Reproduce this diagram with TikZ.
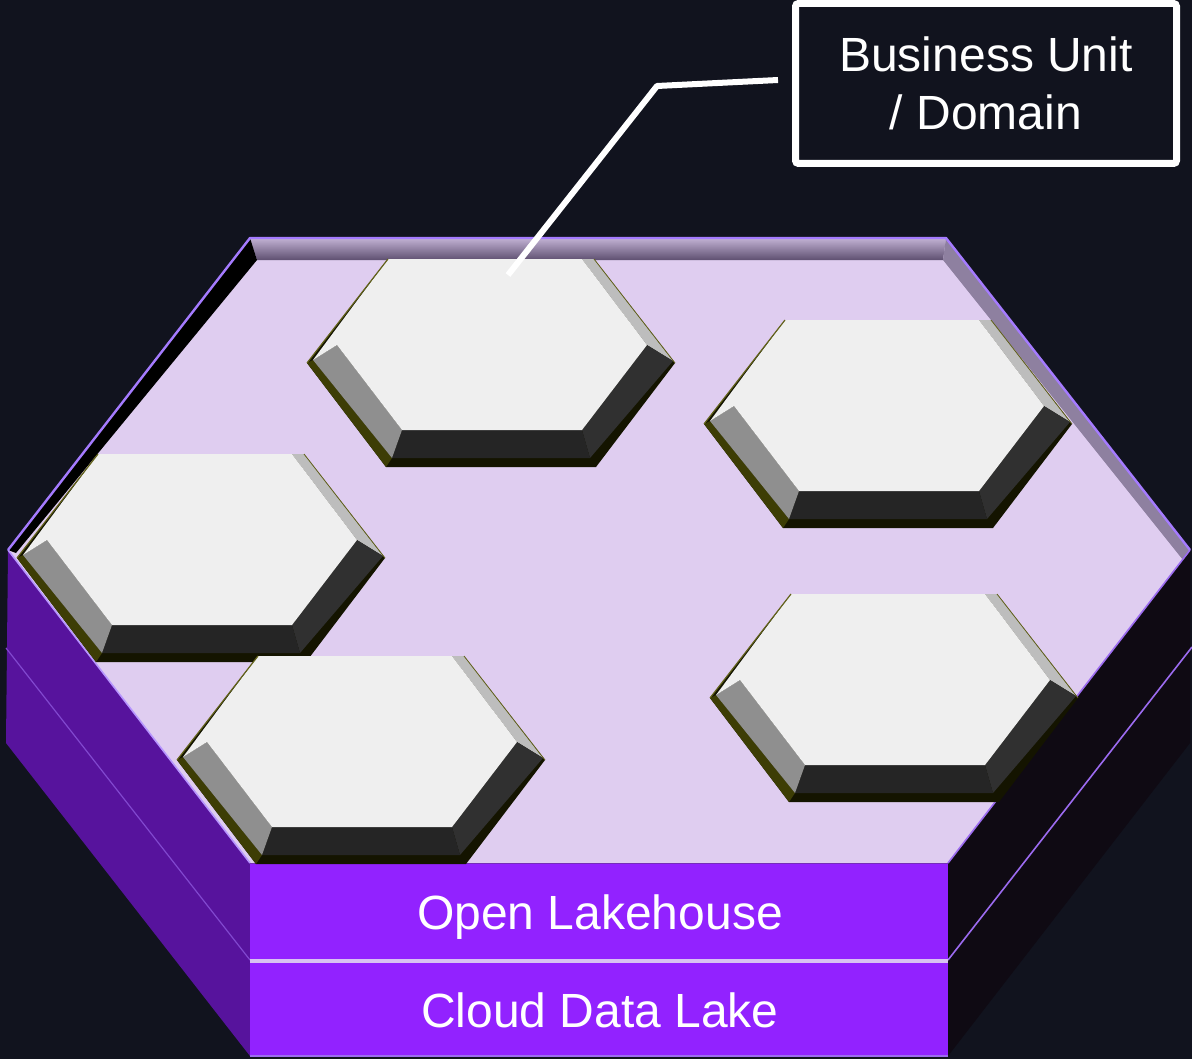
\documentclass[tikz,border=0pt]{standalone}
\usepackage{fontspec}
\setmainfont{Liberation Sans}

\definecolor{bgdark}{HTML}{11131E}
\definecolor{laketop}{HTML}{DFCDF0}
\definecolor{rimlight}{HTML}{C2B2D4}
\definecolor{rimdark}{HTML}{5E4F70}
\definecolor{rimright}{HTML}{8E80A0}
\definecolor{rimedge}{HTML}{A57BFF}
\definecolor{frontviolet}{HTML}{9222FF}
\definecolor{sidepurple}{HTML}{57139D}
\definecolor{sidedark}{HTML}{0F0A13}
\definecolor{seamline}{HTML}{9C6BF0}
\definecolor{seamlight}{HTML}{D8C2F2}
\definecolor{tilelight}{HTML}{EFEFEF}
\definecolor{tileur}{HTML}{BDBDBD}
\definecolor{tilell}{HTML}{8F8F8F}
\definecolor{tilebot}{HTML}{252525}
\definecolor{tilelr}{HTML}{303030}
\definecolor{tilebase}{HTML}{141400}
\definecolor{tileolive}{HTML}{3D3D05}
\definecolor{tileedge}{HTML}{62621A}

\tikzset{
  bigfont/.style={font=\fontsize{24}{29}\selectfont},
  callout/.style={draw=white, line width=3.5pt, fill=bgdark, rounded corners=1.5pt,
    minimum width=190.5pt, minimum height=80pt, inner sep=0pt, align=center,
    text=white, bigfont},
  layerlabel/.style={text=white, anchor=base, inner sep=0pt, bigfont},
  leader/.style={draw=white, line width=3pt, line join=round},
  seam/.style={draw=seamline, line width=0.8pt},
}

% one raised domain tile, centred at (#1,#2)
\newcommand{\hextile}[2]{%
  \begin{scope}[shift={(#1,#2)}]
    \fill[tilebase] (-184,0) -- (-103,-104) -- (103,-104) -- (184,0) -- (105,104) -- (-105,104) -- cycle;
    \fill[tileolive] (-184,0) -- (-105,104) -- (-99,95) -- (-178,-3) -- cycle;
    \fill[tileur] (103,-104) -- (182,-2) -- (156,-18) -- (91,-104) -- cycle;
    \fill[tilelr] (182,-2) -- (99,95) -- (91,67) -- (156,-18) -- cycle;
    \fill[tilebot] (99,95) -- (-99,95) -- (-89,67) -- (91,67) -- cycle;
    \fill[tilell] (-99,95) -- (-178,-3) -- (-154,-18) -- (-89,67) -- cycle;
    \fill[tilelight] (-103,-104) -- (91,-104) -- (156,-18) -- (91,67) -- (-89,67) -- (-154,-18) -- (-178,-3) -- cycle;
    \draw[tileedge, line width=0.6pt] (-184,0) -- (-103,-104);
    \draw[tileedge, line width=0.4pt] (103,-104) -- (184,0);
  \end{scope}}

\begin{document}
\begin{tikzpicture}[x=0.5pt, y=-0.5pt]
  \useasboundingbox (0,0) rectangle (1192,1059);
  \fill[bgdark] (0,0) rectangle (1192,1059);

  % side faces of the two layers
  \fill[sidedark] (948,863) -- (1190,550) -- (1190,743) -- (948,1056) -- cycle;
  \draw[seam] (948,960) -- (1192,647);
  \fill[sidepurple] (8,550) -- (250,863) -- (250,1056) -- (6,743) -- cycle;
  \draw[seamline!60!sidepurple, line width=0.6pt] (6,648) -- (250,960);

  % front faces
  \fill[frontviolet] (250,863) rectangle (948,960);
  \fill[frontviolet] (250,963) rectangle (948,1056);
  \fill[seamlight] (250,959) rectangle (948,963);
  \draw[seamline, line width=0.8pt] (250,1056) -- (948,1056);
  \draw[frontviolet!70!black, line width=0.8pt] (250,863) -- (948,863);

  % top face with its raised rim
  \fill[laketop] (250,238) -- (946,238) -- (1190,550) -- (948,863) -- (250,863) -- (8,550) -- cycle;
  \shade[top color=rimlight, bottom color=rimdark] (250,238) -- (946,238) -- (943,260) -- (257,260) -- cycle;
  \fill[black] (250,238) -- (257,260) -- (16,553) -- (8,550) -- cycle;
  \fill[rimright] (946,238) -- (1190,550) -- (1183,560) -- (943,260) -- cycle;
  \draw[seamline, line width=0.8pt] (1190,550) -- (948,863);
  \draw[rimedge!80!white, line width=0.8pt] (8,550) -- (250,863);
  \draw[rimedge, line width=1.2pt, line join=round] (8,550) -- (250,238) -- (946,238) -- (1190,550);

  % domain tiles
  \hextile{491}{363}
  \hextile{888}{424}
  \hextile{201}{558}
  \hextile{894}{698}
  \hextile{361}{760}

  % layer labels
  \node[layerlabel] (olh) at (600,929) {Open Lakehouse};
  \node[layerlabel] (cdl) at (600,1027) {Cloud Data Lake};

  % callout
  \node[callout] (bu) at (986,83.5) {Business Unit\\/ Domain};
  \coordinate (bend) at (657,86);
  \coordinate (pin) at (508,275);
  \draw[leader] ([xshift=-7pt,yshift=1.75pt]bu.west) -- (bend) -- (pin);
\end{tikzpicture}
\end{document}
